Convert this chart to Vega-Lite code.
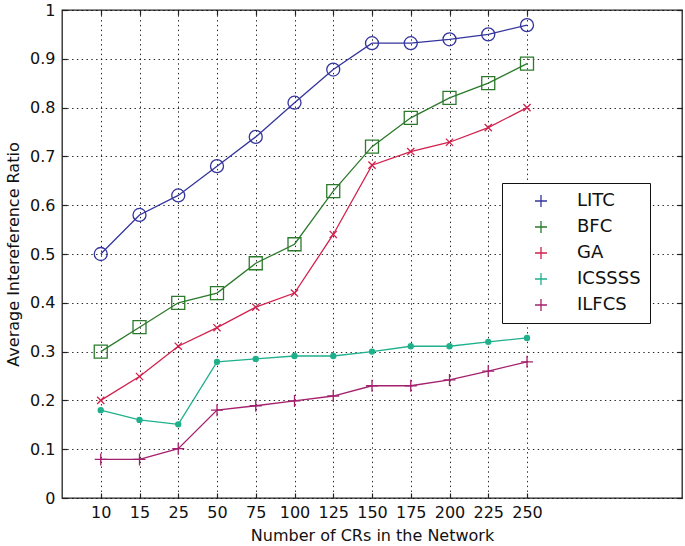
{
  "$schema": "https://vega.github.io/schema/vega-lite/v6.json",
  "autosize": {"type": "none"},
  "padding": {"left": 62, "top": 10, "right": 3, "bottom": 48},
  "width": 620,
  "height": 488,
  "background": "white",
  "config": {
    "view": {"stroke": "#222", "strokeWidth": 1.3},
    "font": "DejaVu Sans",
    "axis": {
      "labelFont": "DejaVu Sans",
      "labelFontSize": 16,
      "labelColor": "#111",
      "titleFont": "DejaVu Sans",
      "titleFontSize": 16,
      "titleFontWeight": "normal",
      "titleColor": "#111",
      "domain": false,
      "tickColor": "#222",
      "tickWidth": 1.2,
      "gridColor": "#000",
      "gridDash": [1.4, 3.4],
      "gridOpacity": 0.85,
      "gridWidth": 1
    }
  },
  "data": {
    "values": [
      {"n": 10, "series": "LITC", "v": 0.5},
      {"n": 15, "series": "LITC", "v": 0.58},
      {"n": 25, "series": "LITC", "v": 0.62},
      {"n": 50, "series": "LITC", "v": 0.68},
      {"n": 75, "series": "LITC", "v": 0.74},
      {"n": 100, "series": "LITC", "v": 0.81},
      {"n": 125, "series": "LITC", "v": 0.878},
      {"n": 150, "series": "LITC", "v": 0.932},
      {"n": 175, "series": "LITC", "v": 0.932},
      {"n": 200, "series": "LITC", "v": 0.94},
      {"n": 225, "series": "LITC", "v": 0.95},
      {"n": 250, "series": "LITC", "v": 0.969},
      {"n": 10, "series": "BFC", "v": 0.3},
      {"n": 15, "series": "BFC", "v": 0.35},
      {"n": 25, "series": "BFC", "v": 0.4},
      {"n": 50, "series": "BFC", "v": 0.42},
      {"n": 75, "series": "BFC", "v": 0.481},
      {"n": 100, "series": "BFC", "v": 0.52},
      {"n": 125, "series": "BFC", "v": 0.629},
      {"n": 150, "series": "BFC", "v": 0.72},
      {"n": 175, "series": "BFC", "v": 0.779},
      {"n": 200, "series": "BFC", "v": 0.82},
      {"n": 225, "series": "BFC", "v": 0.85},
      {"n": 250, "series": "BFC", "v": 0.89},
      {"n": 10, "series": "GA", "v": 0.2},
      {"n": 15, "series": "GA", "v": 0.249},
      {"n": 25, "series": "GA", "v": 0.311},
      {"n": 50, "series": "GA", "v": 0.349},
      {"n": 75, "series": "GA", "v": 0.391},
      {"n": 100, "series": "GA", "v": 0.42},
      {"n": 125, "series": "GA", "v": 0.54},
      {"n": 150, "series": "GA", "v": 0.682},
      {"n": 175, "series": "GA", "v": 0.71},
      {"n": 200, "series": "GA", "v": 0.729},
      {"n": 225, "series": "GA", "v": 0.759},
      {"n": 250, "series": "GA", "v": 0.8},
      {"n": 10, "series": "ICSSSS", "v": 0.18},
      {"n": 15, "series": "ICSSSS", "v": 0.16},
      {"n": 25, "series": "ICSSSS", "v": 0.151},
      {"n": 50, "series": "ICSSSS", "v": 0.279},
      {"n": 75, "series": "ICSSSS", "v": 0.285},
      {"n": 100, "series": "ICSSSS", "v": 0.291},
      {"n": 125, "series": "ICSSSS", "v": 0.291},
      {"n": 150, "series": "ICSSSS", "v": 0.3},
      {"n": 175, "series": "ICSSSS", "v": 0.311},
      {"n": 200, "series": "ICSSSS", "v": 0.311},
      {"n": 225, "series": "ICSSSS", "v": 0.32},
      {"n": 250, "series": "ICSSSS", "v": 0.328},
      {"n": 10, "series": "ILFCS", "v": 0.079},
      {"n": 15, "series": "ILFCS", "v": 0.079},
      {"n": 25, "series": "ILFCS", "v": 0.101},
      {"n": 50, "series": "ILFCS", "v": 0.18},
      {"n": 75, "series": "ILFCS", "v": 0.189},
      {"n": 100, "series": "ILFCS", "v": 0.199},
      {"n": 125, "series": "ILFCS", "v": 0.209},
      {"n": 150, "series": "ILFCS", "v": 0.23},
      {"n": 175, "series": "ILFCS", "v": 0.23},
      {"n": 200, "series": "ILFCS", "v": 0.242},
      {"n": 225, "series": "ILFCS", "v": 0.26},
      {"n": 250, "series": "ILFCS", "v": 0.279}
    ]
  },
  "layer": [
    {
      "mark": {"type": "point", "filled": false, "strokeWidth": 1.3, "size": 144, "opacity": 1},
      "encoding": {
        "x": {
          "field": "n", "type": "ordinal",
          "scale": {"type": "point", "domain": [10, 15, 25, 50, 75, 100, 125, 150, 175, 200, 225, 250, "pad1", "pad2", "pad3"], "padding": 1, "align": 0.5},
          "axis": {"orient": "bottom", "title": "Number of CRs in the Network", "values": [10, 15, 25, 50, 75, 100, 125, 150, 175, 200, 225, 250], "labelAngle": 0, "grid": true, "tickSize": -5, "labelPadding": 11, "titlePadding": 7}
        },
        "y": {
          "field": "v", "type": "quantitative",
          "scale": {"domain": [0, 1], "nice": false},
          "axis": {"orient": "left", "title": "Average Intereference Ratio", "values": [0, 0.1, 0.2, 0.3, 0.4, 0.5, 0.6, 0.7, 0.8, 0.9, 1], "format": "~g", "grid": true, "tickSize": -5, "labelPadding": 12, "titlePadding": 8}
        },
        "color": {
          "field": "series", "type": "nominal",
          "scale": {"domain": ["LITC", "BFC", "GA", "ICSSSS", "ILFCS"], "range": ["#34349e", "#2b7a2b", "#d2204c", "#1fb08c", "#a3206c"]},
          "legend": {
            "orient": "none", "legendX": 440, "legendY": 173,
            "title": null, "padding": 9, "strokeColor": "#111", "fillColor": "white",
            "symbolSize": 144, "symbolOffset": 21, "labelOffset": 27,
            "labelFont": "DejaVu Sans", "labelFontSize": 18, "labelColor": "#111",
            "rowPadding": 8, "symbolStrokeWidth": 1.3,
            "encode": {
              "symbols": {
                "shape": {"value": {"expr": "datum.value === 'LITC' ? 'M-4.83,0H4.83M1.083,0A1.083,1.083,0,1,1,-1.083,0A1.083,1.083,0,1,1,1.083,0Z' : datum.value === 'BFC' ? 'M-4.83,0H4.83M-1.083,-1.083H1.083V1.083H-1.083Z' : datum.value === 'GA' ? 'M-4.83,0H4.83M-0.6,-0.6L0.6,0.6M-0.6,0.6L0.6,-0.6' : datum.value === 'ICSSSS' ? 'M-4.83,0H4.83M0.42,0A0.42,0.42,0,1,1,-0.42,0A0.42,0.42,0,1,1,0.42,0Z' : 'M-4.83,0H4.83M0,-1V1'"}},
                "fill": {"value": {"expr": "datum.value === 'ICSSSS' ? '#1fb08c' : 'transparent'"}}
              }
            }
          }
        },
        "shape": {
          "condition": [
            {"test": "datum.series === 'LITC'", "value": "M1.083,0A1.083,1.083,0,1,1,-1.083,0A1.083,1.083,0,1,1,1.083,0Z"},
            {"test": "datum.series === 'BFC'", "value": "M-1.083,-1.083H1.083V1.083H-1.083Z"},
            {"test": "datum.series === 'GA'", "value": "M-0.6,-0.6L0.6,0.6M-0.6,0.6L0.6,-0.6"},
            {"test": "datum.series === 'ICSSSS'", "value": "M0.42,0A0.42,0.42,0,1,1,-0.42,0A0.42,0.42,0,1,1,0.42,0Z"}
          ],
          "value": "M-1,0H1M0,-1V1"
        },
        "fill": {"condition": {"test": "datum.series === 'ICSSSS'", "value": "#1fb08c"}, "value": "transparent"}
      }
    },
    {
      "mark": {"type": "line", "strokeWidth": 1.3},
      "encoding": {
        "x": {
          "field": "n", "type": "ordinal",
          "axis": {"orient": "top", "title": null, "labels": false, "grid": false, "tickSize": -5, "values": [10, 15, 25, 50, 75, 100, 125, 150, 175, 200, 225, 250]}
        },
        "y": {
          "field": "v", "type": "quantitative",
          "axis": {"orient": "right", "title": null, "labels": false, "grid": false, "tickSize": -5, "values": [0, 0.1, 0.2, 0.3, 0.4, 0.5, 0.6, 0.7, 0.8, 0.9, 1]}
        },
        "color": {
          "field": "series", "type": "nominal"
        }
      }
    }
  ],
  "resolve": {"axis": {"x": "independent", "y": "independent"}}
}
